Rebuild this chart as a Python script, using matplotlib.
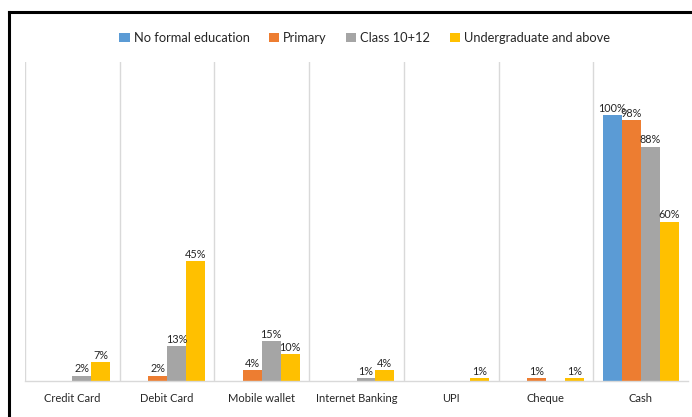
import matplotlib
matplotlib.use("Agg")
import matplotlib.pyplot as plt
from matplotlib.lines import Line2D
from matplotlib.patches import Patch
import numpy as np

categories = ["Credit Card", "Debit Card", "Mobile wallet", "Internet Banking",
              "UPI", "Cheque", "Cash"]
series_names = ["No formal education", "Primary", "Class 10+12",
                "Undergraduate and above"]
no_formal = [None, None, None, None, None, None, 100]
primary = [None, 2, 4, None, None, 1, 98]
class_10_12 = [2, 13, 15, 1, None, None, 88]
undergrad = [7, 45, 10, 4, 1, 1, 60]
colors = ["#5B9BD5", "#ED7D31", "#A5A5A5", "#FFC000"]

plt.rcParams["font.family"] = ["Lato", "DejaVu Sans"]

fig = plt.figure(figsize=(6.92, 4.17), dpi=100)
W, H = 692, 417
ax = fig.add_axes([25 / W, (H - 381) / H, (688 - 25) / W, (381 - 62) / H])

x = np.arange(len(categories))
bw = 0.2
all_series = [no_formal, primary, class_10_12, undergrad]
for i, (vals, col) in enumerate(zip(all_series, colors)):
    offs = (i - 1.5) * bw
    for xi, v in zip(x, vals):
        if v is None:
            continue
        ax.bar(xi + offs, v, width=bw, color=col, edgecolor="none")
        ax.text(xi + offs, v + 0.6, f"{v}%", ha="center", va="bottom",
                fontsize=7.8, color="#262626")

ax.set_xlim(-0.5, len(categories) - 0.5)
ax.set_ylim(0, 120)
ax.set_yticks([])
ax.set_xticks(x)
ax.set_xticklabels(categories, fontsize=8, color="#262626")
ax.tick_params(axis="x", length=0, pad=9)
for s in ["top", "right", "left"]:
    ax.spines[s].set_visible(False)
ax.spines["bottom"].set_color("#D9D9D9")
ax.spines["bottom"].set_linewidth(1)

# category separators (left edge and between categories)
separators = [i - 0.5 for i in range(len(categories))]
for b in separators:
    ax.axvline(b, color="#D9D9D9", linewidth=1, zorder=0)

handles = [Patch(facecolor=c, edgecolor="none") for c in colors]
fig.legend(handles, series_names, loc="center", ncol=4,
           bbox_to_anchor=(0.527, (H - 38) / H), frameon=False,
           fontsize=9.3, handlelength=0.8, handleheight=0.8,
           handletextpad=0.3, columnspacing=1.5)
for t in fig.legends[0].get_texts():
    t.set_color("#262626")

# outer frame
fig.add_artist(Line2D([9 / W, 9 / W], [0, (H - 12) / H], color="black",
                      linewidth=2.2, transform=fig.transFigure))
fig.add_artist(Line2D([9 / W, 1], [(H - 12) / H, (H - 12) / H], color="black",
                      linewidth=2.2, transform=fig.transFigure))

fig.savefig("out.png", dpi=100, facecolor="white")
